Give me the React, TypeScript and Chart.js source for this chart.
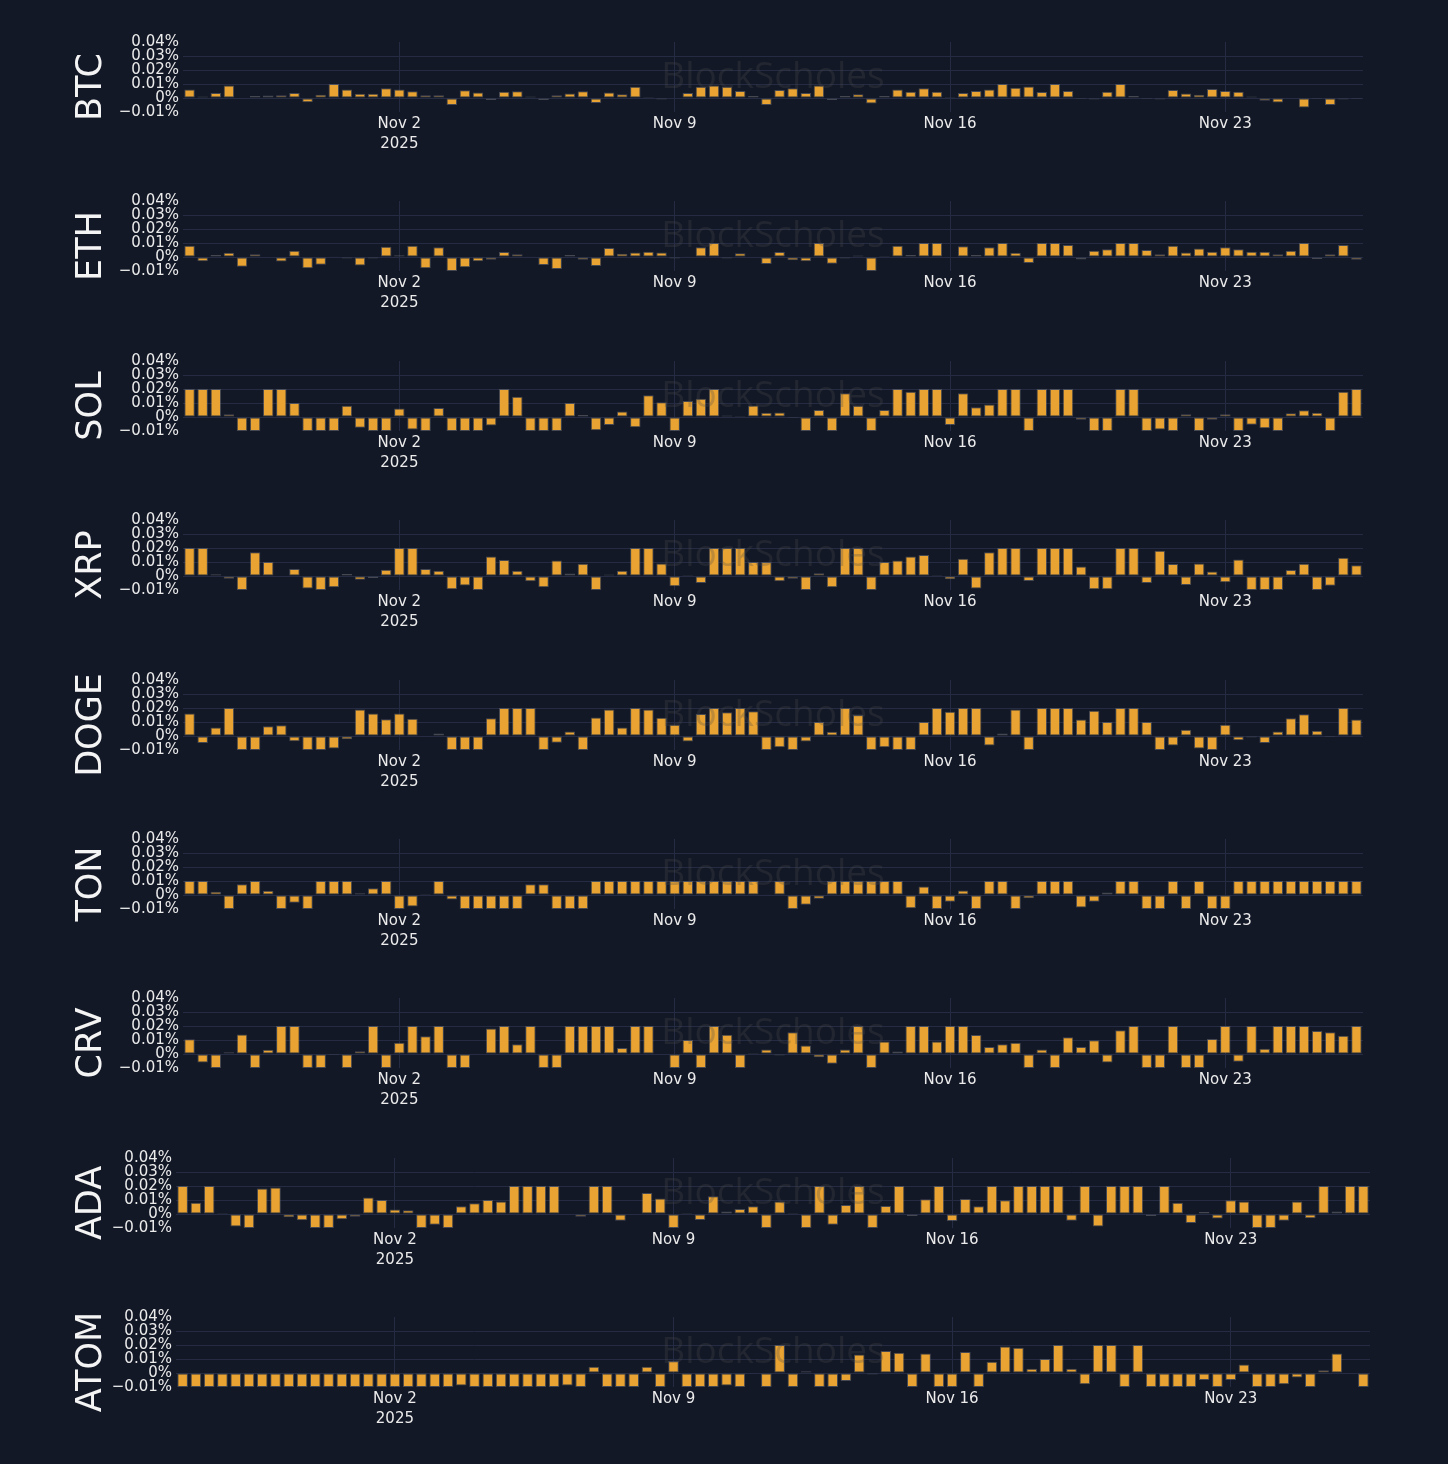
import { useEffect, useRef } from "react";
import { Chart, registerables } from "chart.js";

Chart.register(...registerables);

// funding rates in %, one bar every 8 hours from Oct 27 16:00 UTC
const coins = ["BTC", "ETH", "SOL", "XRP", "DOGE", "TON", "CRV", "ADA", "ATOM"];

const btc = [
  0.006, 0.001, 0.0036, 0.009, -0.0005, 0.0015, 0.0017, 0.002, 0.0036, -0.003,
  0.0024, 0.01, 0.006, 0.003, 0.003, 0.007, 0.006, 0.0048, 0.002, 0.002,
  -0.005, 0.0055, 0.004, -0.0015, 0.0045, 0.0048, 0.001, -0.0015, 0.002, 0.0033,
  0.0048, -0.0035, 0.004, 0.0026, 0.008, 0.0007, -0.001, -0.0003, 0.0036, 0.008,
  0.009, 0.008, 0.005, 0.0015, -0.005, 0.0057, 0.007, 0.0036, 0.009, -0.0015,
  0.0015, 0.0026, -0.004, 0.0015, 0.006, 0.0045, 0.007, 0.0045, 0.0007, 0.0036,
  0.005, 0.006, 0.01, 0.0074, 0.0083, 0.0043, 0.01, 0.005, -0.0007, -0.001,
  0.0045, 0.01, 0.0015, -0.0007, -0.001, 0.0057, 0.0033, 0.0024, 0.0064, 0.005,
  0.0045, 0.001, -0.002, -0.0033, -0.0002, -0.0067, -0.0007, -0.005, -0.001, -0.0007,
];
const eth = [
  0.008, -0.003, 0.0015, 0.003, -0.007, 0.002, 0.0003, -0.0033, 0.0045, -0.008,
  -0.0055, 0.0005, -0.001, -0.006, -0.001, 0.0074, 0.0012, 0.008, -0.008, 0.007,
  -0.01, -0.0074, -0.003, -0.002, 0.0036, 0.002, 0.0005, -0.0057, -0.0086, 0.0015,
  -0.002, -0.0064, 0.0064, 0.0024, 0.0033, 0.0038, 0.0033, -0.001, 0.0005, 0.007,
  0.01, -0.001, 0.0026, -0.0003, -0.005, 0.0036, -0.0024, -0.003, 0.01, -0.0048,
  -0.001, 0.001, -0.01, 0.0007, 0.008, 0.0015, 0.01, 0.01, 0.0003, 0.0076,
  0.0015, 0.007, 0.01, 0.003, -0.0043, 0.01, 0.01, 0.0086, -0.0017, 0.0045,
  0.0055, 0.01, 0.01, 0.005, 0.002, 0.008, 0.0033, 0.006, 0.0038, 0.007,
  0.0055, 0.0038, 0.0038, 0.002, 0.0045, 0.01, -0.0015, 0.002, 0.0086, -0.002,
];
const sol = [
  0.02, 0.02, 0.02, 0.002, -0.01, -0.01, 0.02, 0.02, 0.01, -0.01,
  -0.01, -0.01, 0.008, -0.0076, -0.01, -0.01, 0.006, -0.009, -0.01, 0.0064,
  -0.01, -0.01, -0.01, -0.006, 0.02, 0.0145, -0.01, -0.01, -0.01, 0.01,
  0.0015, -0.0095, -0.0057, 0.004, -0.0074, 0.0155, 0.0105, -0.01, 0.0115, 0.013,
  0.02, 0.001, 0.0007, 0.0083, 0.003, 0.0033, -0.0007, -0.01, 0.005, -0.01,
  0.017, 0.008, -0.01, 0.005, 0.02, 0.018, 0.02, 0.02, -0.0057, 0.017,
  0.007, 0.009, 0.02, 0.02, -0.01, 0.02, 0.02, 0.02, -0.002, -0.01,
  -0.01, 0.02, 0.02, -0.01, -0.009, -0.01, 0.002, -0.01, -0.002, 0.002,
  -0.01, -0.0055, -0.008, -0.01, 0.0026, 0.0048, 0.003, -0.01, 0.018, 0.02,
];
const xrp = [
  0.02, 0.02, 0.0012, -0.002, -0.01, 0.017, 0.01, 0.0003, 0.005, -0.009,
  -0.01, -0.008, 0.0015, -0.0026, -0.0015, 0.0045, 0.02, 0.02, 0.005, 0.0038,
  -0.0095, -0.0067, -0.01, 0.014, 0.0115, 0.0038, -0.0038, -0.008, 0.011, 0.0017,
  0.0088, -0.01, 0.001, 0.0038, 0.02, 0.02, 0.009, -0.0074, 0.0007, -0.005,
  0.02, 0.02, 0.02, 0.01, 0.01, -0.0038, -0.002, -0.01, 0.002, -0.008,
  0.02, 0.02, -0.01, 0.01, 0.011, 0.014, 0.015, 0.0007, -0.0024, 0.0124,
  -0.009, 0.017, 0.02, 0.02, -0.0036, 0.02, 0.02, 0.02, 0.0067, -0.0095,
  -0.0095, 0.02, 0.02, -0.005, 0.018, 0.0086, -0.0064, 0.009, 0.0033, -0.0045,
  0.0117, -0.01, -0.01, -0.01, 0.0043, 0.0088, -0.01, -0.007, 0.013, 0.0076,
];
const doge = [
  0.016, -0.005, 0.006, 0.02, -0.01, -0.01, 0.007, 0.0076, -0.0038, -0.01,
  -0.01, -0.009, -0.0024, 0.019, 0.016, 0.012, 0.016, 0.0124, -0.0005, 0.0017,
  -0.01, -0.01, -0.01, 0.0126, 0.02, 0.02, 0.02, -0.01, -0.0048, 0.0033,
  -0.01, 0.0133, 0.019, 0.006, 0.02, 0.019, 0.013, 0.008, -0.004, 0.0157,
  0.02, 0.017, 0.02, 0.0176, -0.01, -0.008, -0.01, -0.004, 0.01, 0.003,
  0.02, 0.015, -0.01, -0.008, -0.01, -0.01, 0.01, 0.02, 0.0174, 0.02,
  0.02, -0.0067, 0.0017, 0.019, -0.01, 0.02, 0.02, 0.02, 0.0117, 0.018,
  0.01, 0.02, 0.02, 0.01, -0.01, -0.0067, 0.0045, -0.009, -0.01, 0.008,
  -0.003, -0.001, -0.005, 0.0033, 0.0126, 0.0155, 0.0038, -0.0007, 0.02, 0.0117,
];
const ton = [
  0.01, 0.01, 0.0024, -0.01, 0.0076, 0.01, 0.003, -0.01, -0.0055, -0.01,
  0.01, 0.01, 0.01, 0.0012, 0.0048, 0.01, -0.01, -0.0083, 0.0007, 0.01,
  -0.0033, -0.01, -0.01, -0.01, -0.01, -0.01, 0.0076, 0.0076, -0.01, -0.01,
  -0.01, 0.01, 0.01, 0.01, 0.01, 0.01, 0.01, 0.01, 0.01, 0.01,
  0.01, 0.01, 0.01, 0.01, 0.0005, 0.01, -0.01, -0.007, -0.0026, 0.01,
  0.01, 0.01, 0.01, 0.01, 0.01, -0.0095, 0.006, -0.01, -0.0048, 0.0033,
  -0.01, 0.01, 0.01, -0.01, -0.0024, 0.01, 0.01, 0.01, -0.009, -0.0048,
  0.0017, 0.01, 0.01, -0.01, -0.01, 0.01, -0.01, 0.01, -0.01, -0.01,
  0.01, 0.01, 0.01, 0.01, 0.01, 0.01, 0.01, 0.01, 0.01, 0.01,
];
const crv = [
  0.0105, -0.006, -0.01, 0.0012, 0.014, -0.01, 0.003, 0.02, 0.02, -0.01,
  -0.01, -0.0007, -0.01, 0.002, 0.02, -0.01, 0.008, 0.02, 0.0126, 0.02,
  -0.01, -0.01, 0.0005, 0.0183, 0.02, 0.007, 0.02, -0.01, -0.01, 0.02,
  0.02, 0.02, 0.02, 0.0043, 0.02, 0.02, -0.0005, -0.01, 0.01, -0.01,
  0.02, 0.0138, -0.01, 0.0007, 0.0033, -0.001, 0.0155, 0.006, -0.0024, -0.007,
  0.0033, 0.02, -0.01, 0.009, 0.0017, 0.02, 0.02, 0.009, 0.02, 0.02,
  0.0136, 0.005, 0.007, 0.008, -0.01, 0.0033, -0.01, 0.012, 0.005, 0.0098,
  -0.006, 0.017, 0.02, -0.01, -0.01, 0.02, -0.01, -0.01, 0.0107, 0.02,
  -0.0055, 0.02, 0.0038, 0.02, 0.02, 0.02, 0.0164, 0.0155, 0.013, 0.02,
];
const ada = [
  0.02, 0.008, 0.02, 0.0007, -0.009, -0.01, 0.0183, 0.019, -0.0024, -0.0045,
  -0.01, -0.01, -0.0038, -0.002, 0.0117, 0.01, 0.0033, 0.0026, -0.01, -0.0076,
  -0.01, 0.0055, 0.0076, 0.01, 0.009, 0.02, 0.02, 0.02, 0.02, -0.0003,
  -0.002, 0.02, 0.02, -0.0048, 0.0003, 0.015, 0.011, -0.01, 0.0007, -0.0043,
  0.0126, 0.0017, 0.0036, 0.0055, -0.01, 0.009, 0.0007, -0.01, 0.02, -0.0076,
  0.0064, 0.02, -0.01, 0.0057, 0.02, -0.0015, 0.0105, 0.02, -0.005, 0.0107,
  0.0055, 0.02, 0.0098, 0.02, 0.02, 0.02, 0.02, -0.0048, 0.02, -0.009,
  0.02, 0.02, 0.02, -0.0015, 0.02, 0.008, -0.0064, 0.0015, -0.0033, 0.0098,
  0.009, -0.01, -0.01, -0.0048, 0.009, -0.003, 0.02, 0.0017, 0.02, 0.02,
];
const atom = [
  -0.01, -0.01, -0.01, -0.01, -0.01, -0.01, -0.01, -0.01, -0.01, -0.01,
  -0.01, -0.01, -0.01, -0.01, -0.01, -0.01, -0.01, -0.01, -0.01, -0.01,
  -0.01, -0.009, -0.01, -0.01, -0.01, -0.01, -0.01, -0.01, -0.01, -0.009,
  -0.01, 0.0045, -0.01, -0.01, -0.01, 0.0045, -0.01, 0.0086, -0.01, -0.01,
  -0.01, -0.009, -0.01, -0.0005, -0.01, 0.02, -0.01, 0.0012, -0.01, -0.01,
  -0.0057, 0.0133, -0.001, 0.0157, 0.0145, -0.01, 0.014, -0.01, -0.01, 0.015,
  -0.01, 0.008, 0.019, 0.018, 0.003, 0.01, 0.02, 0.003, -0.008, 0.02,
  0.02, -0.01, 0.02, -0.01, -0.01, -0.01, -0.01, -0.005, -0.01, -0.005,
  0.006, -0.01, -0.01, -0.008, -0.0033, -0.01, 0.002, 0.014, -0.0005, -0.01,
];
const rates = [btc, eth, sol, xrp, doge, ton, crv, ada, atom];

const startTime = Date.UTC(2025, 9, 27, 16);
const categories = btc.map((_, i) =>
  new Date(startTime + i * 8 * 3600 * 1000).toISOString().slice(0, 16)
);
const xTickLabels: Record<string, string[]> = {
  "2025-11-02T00:00": ["Nov 2", "2025"],
  "2025-11-09T00:00": ["Nov 9"],
  "2025-11-16T00:00": ["Nov 16"],
  "2025-11-23T00:00": ["Nov 23"],
};
const yTicks = [-0.01, 0, 0.01, 0.02, 0.03, 0.04];

const BG = "#131827";
const GRID = "#242b42";
const TEXT = "#ebebeb";
const BAR = "#e8a332";
const FONT = "DejaVu Sans";
const PAD_TOP = 12;
const X_AXIS_H = 48;
const PLOT_H = 70;

function fmtPct(v: number) {
  if (Math.abs(v) < 1e-9) return "0%";
  return (v < 0 ? "\u2212" : "") + Math.abs(v).toFixed(2) + "%";
}

function Panel({ name, values, top, left, right }: { name: string; values: number[]; top: number; left: number; right: number }) {
  const canvasEl = useRef<HTMLCanvasElement>(null);

  useEffect(() => {
    const titlePlugin = {
      id: "sideTitle",
      afterDraw(chart: any) {
        const { ctx, chartArea } = chart;
        ctx.save();
        ctx.font = `35px "${FONT}"`;
        ctx.fillStyle = "#f4f4f4";
        ctx.textAlign = "center";
        ctx.textBaseline = "alphabetic";
        ctx.translate(101, (chartArea.top + chartArea.bottom) / 2 + 10);
        ctx.rotate(-Math.PI / 2);
        ctx.fillText(name, 0, 0);
        ctx.restore();
      },
    };
    const watermark = {
      id: "watermark",
      afterDatasetsDraw(chart: any) {
        const { ctx, chartArea } = chart;
        ctx.save();
        ctx.font = '37px "Open Sans"';
        ctx.fillStyle = "rgba(75,75,75,0.28)";
        ctx.textAlign = "center";
        ctx.textBaseline = "middle";
        ctx.fillText("BlockScholes", (chartArea.left + chartArea.right) / 2, (chartArea.top + chartArea.bottom) / 2);
        ctx.restore();
      },
    };

    const chart = new Chart(canvasEl.current!, {
      type: "bar",
      data: {
        labels: categories,
        datasets: [
          {
            data: values,
            backgroundColor: BAR,
            borderColor: "rgba(130,130,130,0.45)",
            borderWidth: 1,
            borderSkipped: false,
            barPercentage: 0.8,
            categoryPercentage: 1,
          },
        ],
      },
      options: {
        animation: false,
        responsive: true,
        maintainAspectRatio: false,
        layout: { padding: { top: PAD_TOP, left: 0, right: 1448 - right, bottom: 0 } },
        plugins: { legend: { display: false }, tooltip: { enabled: false } },
        scales: {
          x: {
            grid: {
              offset: false,
              drawTicks: false,
              color: (c: any) => (xTickLabels[categories[c.index]] ? GRID : "transparent"),
            },
            border: { display: false },
            ticks: {
              autoSkip: false,
              maxRotation: 0,
              minRotation: 0,
              padding: 2,
              color: TEXT,
              font: { family: FONT, size: 15, lineHeight: 1.32 },
              callback: (_v: any, i: number) => xTickLabels[categories[i]] ?? "",
            },
            afterFit: (s: any) => {
              s.height = X_AXIS_H;
            },
          },
          y: {
            min: -0.01,
            max: 0.04,
            afterBuildTicks: (s: any) => {
              s.ticks = yTicks.map((value) => ({ value }));
            },
            grid: {
              drawTicks: false,
              color: (c: any) => {
                const v = c.tick ? c.tick.value : 0;
                return v > 0.035 || v < -0.005 ? "transparent" : GRID;
              },
            },
            border: { display: false },
            ticks: {
              autoSkip: false,
              padding: 4,
              color: TEXT,
              font: { family: FONT, size: 15, lineHeight: 1 },
              callback: (v: any) => fmtPct(Number(v)),
            },
            afterFit: (s: any) => {
              s.width = left;
            },
          },
        },
      },
      plugins: [titlePlugin, watermark],
    });
    return () => {
      chart.destroy();
    };
  }, []);

  return (
    <div
      style={{
        position: "absolute",
        left: 0,
        top: top - PAD_TOP,
        width: 1448,
        height: PAD_TOP + PLOT_H + X_AXIS_H,
      }}
    >
      <canvas ref={canvasEl} />
    </div>
  );
}

export default function App() {
  useEffect(() => {
    document.body.style.margin = "0";
    document.body.style.background = BG;
  }, []);

  return (
    <div style={{ position: "relative", width: 1448, height: 1464, background: BG, overflow: "hidden" }}>
      {coins.map((name, i) => (
        <Panel
          key={name}
          name={name}
          values={rates[i]}
          top={Math.round(42 + i * 159.4)}
          left={i < 7 ? 183 : 176}
          right={i < 7 ? 1363 : 1370}
        />
      ))}
    </div>
  );
}
